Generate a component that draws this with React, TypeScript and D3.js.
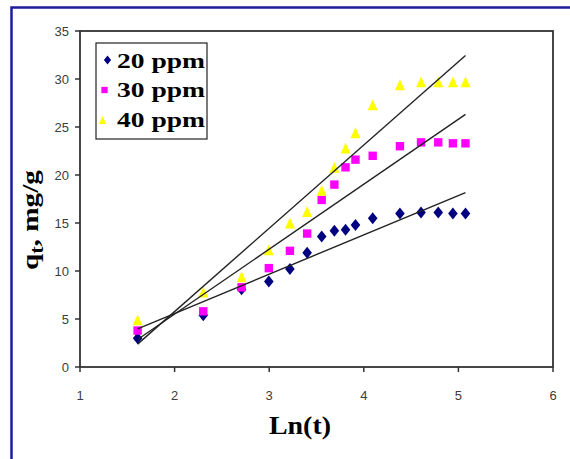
import React from "react";
import * as d3 from "d3";

const lnT = [1.609, 2.303, 2.708, 2.996, 3.219, 3.401, 3.555, 3.689, 3.807, 3.912, 4.094, 4.382, 4.605, 4.787, 4.942, 5.075];
const q20 = [3.0, 5.4, 8.1, 8.9, 10.2, 11.9, 13.6, 14.2, 14.3, 14.8, 15.5, 16.0, 16.1, 16.1, 16.0, 16.0];
const q30 = [3.8, 5.8, 8.3, 10.3, 12.1, 13.9, 17.4, 19.0, 20.8, 21.6, 22.0, 23.0, 23.4, 23.4, 23.3, 23.3];
const q40 = [4.9, 7.8, 9.4, 12.2, 15.0, 16.2, 18.4, 20.8, 22.8, 24.4, 27.3, 29.4, 29.7, 29.7, 29.7, 29.7];
const seriesNames = ["20 ppm", "30 ppm", "40 ppm"];
const xTicks = [1, 2, 3, 4, 5, 6];
const yTicks = [0, 5, 10, 15, 20, 25, 30, 35];

const W = 570, H = 459;
const L = 80, R = 553, T = 31, B = 367;

const colors = ["#000080", "#ff00ff", "#ffff00"];
const serif = "'Liberation Serif', 'Times New Roman', serif";
const sans = "'Liberation Sans', Arial, sans-serif";

function regress(xs: number[], ys: number[]) {
  const mx = d3.mean(xs)!, my = d3.mean(ys)!;
  let sxy = 0, sxx = 0;
  xs.forEach((x, i) => { sxy += (x - mx) * (ys[i] - my); sxx += (x - mx) * (x - mx); });
  const b = sxy / sxx;
  return { b, a: my - b * mx };
}

function markerPath(kind: number, s: number) {
  if (kind === 0) {
    const w = 4.8 * s, h = 6 * s;
    return `M0,${-h}L${w},0L0,${h}L${-w},0Z`;
  }
  if (kind === 1) {
    const a = 4.2 * s;
    return `M${-a},${-a}H${a}V${a}H${-a}Z`;
  }
  const w = 5 * s, h = 5.4 * s;
  return `M0,${-h}L${w},${h}L${-w},${h}Z`;
}

export default function App() {
  const x = d3.scaleLinear().domain([1, 6]).range([L, R]);
  const y = d3.scaleLinear().domain([0, 35]).range([B, T]);
  const data = [q20, q30, q40];
  const xExt = d3.extent(lnT) as [number, number];
  const fits = data.map((ys) => regress(lnT, ys));

  return (
    <div style={{ position: "absolute", left: 0, top: 0 }}>
      <svg width={W} height={H} style={{ display: "block", background: "#fff" }}>
        <rect x={0} y={0} width={W} height={H} fill="#fff" />
        {/* outer blue frame */}
        <path d={`M${W + 2},7.5H11.5V${H + 2}`} fill="none" stroke="#1c1c9c" strokeWidth={2.5} />
        {/* plot frame */}
        <rect x={L} y={T} width={R - L} height={B - T} fill="#fff" stroke="#333" strokeWidth={1.8} />
        {/* y ticks */}
        {yTicks.map((t) => (
          <g key={"y" + t}>
            <line x1={L - 5} x2={L} y1={y(t)} y2={y(t)} stroke="#333" strokeWidth={1.5} />
            <text x={L - 11} y={y(t)} dy="0.36em" textAnchor="end" fontFamily={sans} fontSize={13} fill="#3c3c3c">{t}</text>
          </g>
        ))}
        {xTicks.map((t) => (
          <g key={"x" + t}>
            <line x1={x(t)} x2={x(t)} y1={B} y2={B + 5} stroke="#333" strokeWidth={1.5} />
            <text x={x(t)} y={B + 33} textAnchor="middle" fontFamily={sans} fontSize={13} fill="#3c3c3c">{t}</text>
          </g>
        ))}
        {/* markers */}
        {data.map((ys, si) => (
          <g key={"s" + si}>
            {ys.map((v, i) => (
              <path key={i} d={markerPath(si, 1)} transform={`translate(${x(lnT[i])},${y(v)})`} fill={colors[si]} />
            ))}
          </g>
        ))}
        {/* trend lines */}
        {fits.map((f, i) => (
          <line key={"f" + i} x1={x(xExt[0])} y1={y(f.a + f.b * xExt[0])} x2={x(xExt[1])} y2={y(f.a + f.b * xExt[1])} stroke="#222" strokeWidth={1.4} />
        ))}
        {/* legend */}
        <rect x={96} y={43} width={111} height={96} fill="#fff" stroke="#222" strokeWidth={1.2} />
        {seriesNames.map((n, i) => (
          <g key={"l" + i}>
            <path d={markerPath(i, 0.75)} transform={`translate(${[107.5, 104.5, 102.5][i]},${60 + i * 30})`} fill={colors[i]} />
            <text x={117} y={67.5 + i * 29.7} fontFamily={serif} fontWeight="bold" fontSize={22} textLength={88} lengthAdjust="spacingAndGlyphs" fill="#000">{n}</text>
          </g>
        ))}
        {/* axis titles */}
        <text x={300} y={434} textAnchor="middle" fontFamily={serif} fontWeight="bold" fontSize={25} textLength={62} lengthAdjust="spacingAndGlyphs" fill="#000">Ln(t)</text>
        <text transform="translate(38,220) rotate(-90)" textAnchor="middle" fontFamily={serif} fontWeight="bold" fontSize={24} textLength={100} lengthAdjust="spacingAndGlyphs" fill="#000">
          q<tspan fontSize={18} dy={5}>t</tspan><tspan dy={-5}>, mg/g</tspan>
        </text>
      </svg>
    </div>
  );
}
